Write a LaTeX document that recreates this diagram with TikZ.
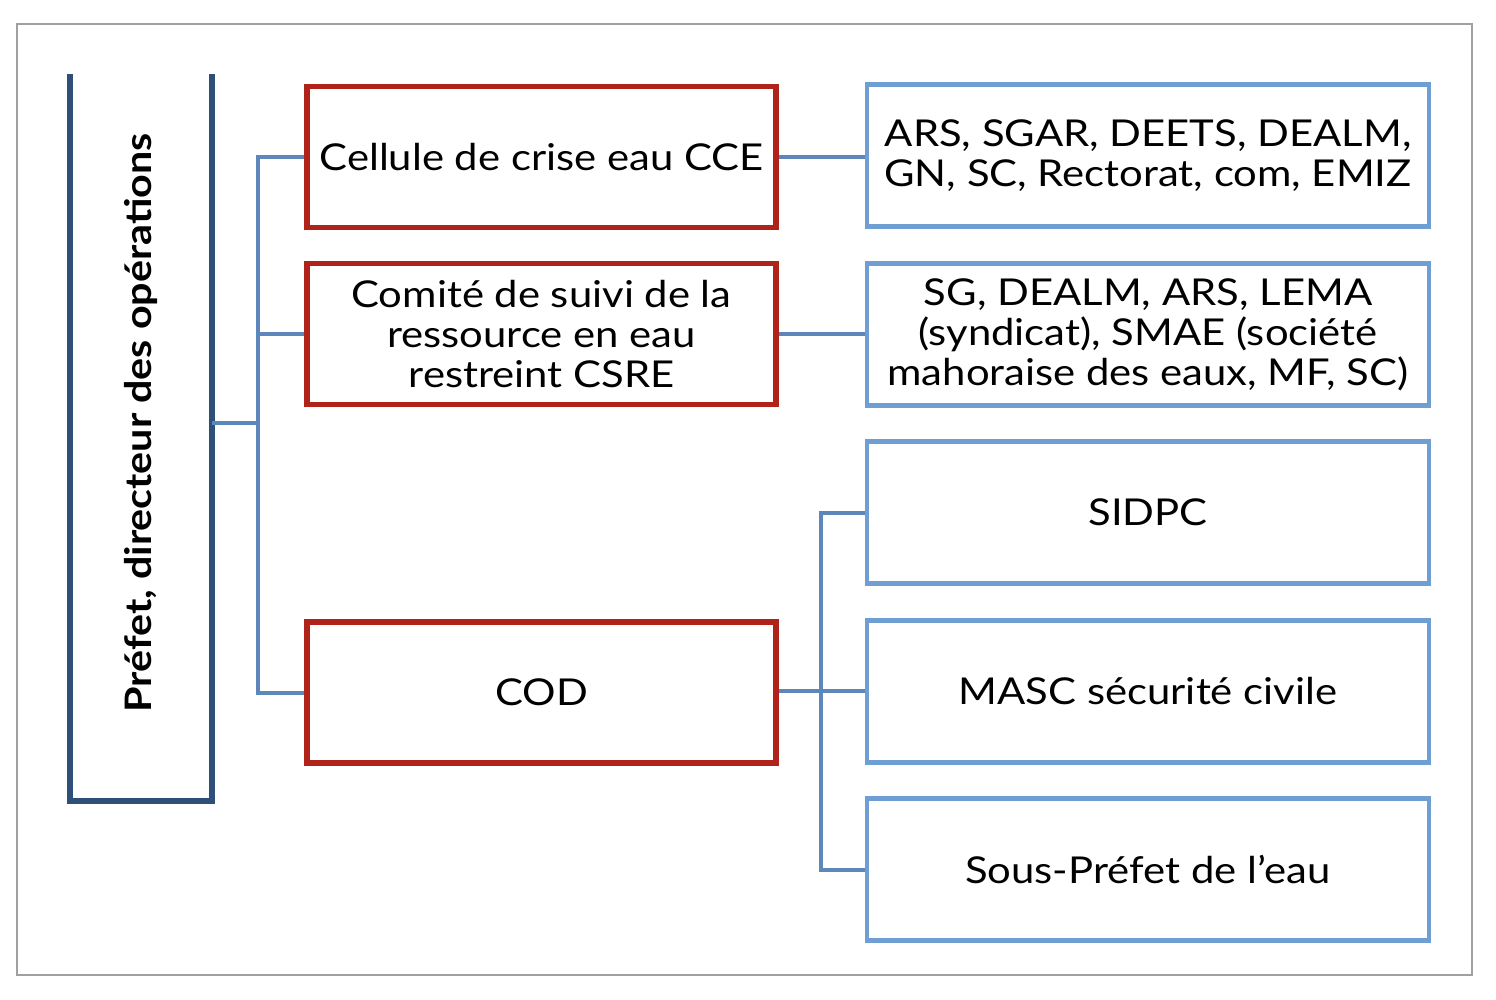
\documentclass[tikz,border=0pt]{standalone}
\usepackage{fontspec}
\setmainfont{Lato}[FakeStretch=1.13]
\definecolor{prefblue}{HTML}{2E5078}
\definecolor{redbox}{HTML}{B0231B}
\definecolor{bluebox}{HTML}{6F9ED3}
\definecolor{connblue}{HTML}{5B87BA}
\definecolor{framegray}{HTML}{A0A0A0}
\begin{document}
\begin{tikzpicture}[x=1pt,y=-1pt,
  redn/.style={draw=redbox,line width=5.5pt,minimum width=469pt,minimum height=141pt,inner sep=0pt,align=center,font=\fontsize{37}{40}\selectfont},
  bluen/.style={draw=bluebox,line width=4.5pt,minimum width=562pt,minimum height=142pt,inner sep=0pt,align=center,font=\fontsize{37}{40}\selectfont},
  conn/.style={draw=connblue,line width=4pt},
  framest/.style={draw=framegray,line width=2.5pt}]
\useasboundingbox (0,0) rectangle (1496,1000);
\draw[framest] (17,24) rectangle (1472,975);
% left box (open at the top)
\node[minimum width=142pt,minimum height=727pt,inner sep=0pt] (pref) at (141,437.5) {};
\draw[prefblue,line width=6pt] (pref.north west) -- (pref.south west) -- (pref.south east) -- (pref.north east);
\node[rotate=90,font=\bfseries\fontsize{36.5}{40}\selectfont] (preft) at (141,423) {Préfet, directeur des opérations};
% red boxes
\node[redn] (cce) at (541.5,157) {Cellule de crise eau CCE};
\node[redn] (csre) at (541.5,334) {Comité de suivi de la\\ressource en eau\\restreint CSRE};
\node[redn] (cod) at (541.5,692.5) {COD};
% blue boxes
\node[bluen] (b1) at (1148,155.5) {ARS, SGAR, DEETS, DEALM,\\GN, SC, Rectorat, com, EMIZ};
\node[bluen] (b2) at (1148,334.5) {SG, DEALM, ARS, LEMA\\(syndicat), SMAE (société\\mahoraise des eaux, MF, SC)};
\node[bluen] (b3) at (1148,512.5) {SIDPC};
\node[bluen] (b4) at (1148,691.5) {MASC sécurité civile};
\node[bluen] (b5) at (1148,869.5) {Sous-Préfet de l’eau};
% connectors
\coordinate (j0) at (258,423);
\coordinate (j1) at (821,691);
\draw[conn] (pref.east |- j0) -- (j0);
\draw[conn] (cce.west) -- (cce.west -| j0) -- (cod.west -| j0) -- (cod.west);
\draw[conn] (csre.west) -- (csre.west -| j0);
\draw[conn] (cce.east) -- (cce.east -| b1.west);
\draw[conn] (csre.east) -- (csre.east -| b2.west);
\draw[conn] (cod.east |- j1) -- (j1) -- (b4.west |- j1);
\draw[conn] (b3.west) -- (b3.west -| j1) -- (b5.west -| j1) -- (b5.west);
\end{tikzpicture}
\end{document}
